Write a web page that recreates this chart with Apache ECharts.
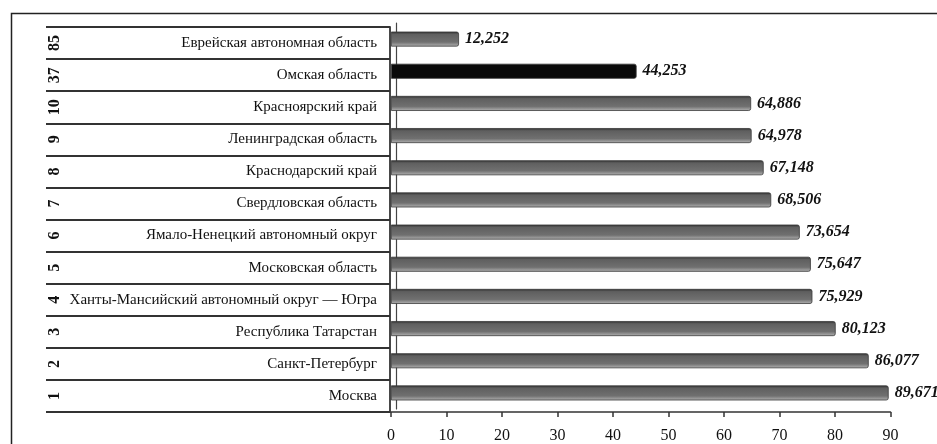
<!DOCTYPE html>
<html>
<head>
<meta charset="utf-8">
<script src="https://cdn.jsdelivr.net/npm/echarts@6/dist/echarts.min.js"></script>
<style>
html,body{margin:0;padding:0;background:#fff;}
#c{width:937px;height:444px;}
</style>
</head>
<body>
<div id="c"></div>
<script>
// data, ordered by rank (bottom row first)
const regions = ['Москва','Санкт-Петербург','Республика Татарстан','Ханты-Мансийский автономный округ — Югра','Московская область','Ямало-Ненецкий автономный округ','Свердловская область','Краснодарский край','Ленинградская область','Красноярский край','Омская область','Еврейская автономная область'];
const ranks = ['1','2','3','4','5','6','7','8','9','10','37','85'];
const values = [89.671, 86.077, 80.123, 75.929, 75.647, 73.654, 68.506, 67.148, 64.978, 64.886, 44.253, 12.252];
const xTicks = [0,10,20,30,40,50,60,70,80,90];
const highlight = 'Омская область';

const serif = '"Liberation Serif","Times New Roman",serif';
const chart = echarts.init(document.getElementById('c'), null, {renderer:'canvas'});

const grayBar = new echarts.graphic.LinearGradient(0,0,0,1,[
  {offset:0,color:'#2c2c2c'},
  {offset:0.18,color:'#5f5f5f'},
  {offset:0.7,color:'#707070'},
  {offset:1,color:'#b5b5b5'}
]);

chart.setOption({
  animation:false,
  backgroundColor:'#fff',
  graphic:[{
    type:'rect', left:9, top:11, silent:true,
    shape:{x:0,y:0,width:1000,height:500},
    style:{fill:'none',stroke:'#222',lineWidth:1.5}
  }],
  grid:[
    {left:391, right:46.5, top:23, bottom:35, containLabel:false},
    {left:46, right:547, top:27, bottom:32, containLabel:false}
  ],
  xAxis:[
    {gridIndex:0, type:'value', min:xTicks[0], max:xTicks[xTicks.length-1], interval:10, offset:3,
     axisLine:{show:true,onZero:false,lineStyle:{color:'#333',width:1.5}},
     axisTick:{show:true,inside:false,length:5,lineStyle:{color:'#333',width:1.5}},
     axisLabel:{margin:16,fontFamily:serif,fontSize:16,color:'#111'},
     splitLine:{show:false}},
    {gridIndex:1, type:'value', min:0, max:1, show:false}
  ],
  yAxis:[
    {gridIndex:0, type:'category', data:regions, offset:-5,
     axisLine:{show:true,onZero:false,lineStyle:{color:'#444',width:1.2}},
     axisTick:{show:false}, axisLabel:{show:false}, splitLine:{show:false}},
    {gridIndex:1, type:'category', data:regions, position:'right',
     axisLine:{show:true,onZero:false,lineStyle:{color:'#333',width:1.8}},
     axisTick:{show:false},
     axisLabel:{inside:true,margin:13,fontFamily:serif,fontSize:15,color:'#111',verticalAlign:'middle'},
     splitLine:{show:true,lineStyle:{color:'#333',width:1.8}}},
    {gridIndex:1, type:'category', data:ranks, position:'left',
     axisLine:{show:false,onZero:false}, axisTick:{show:false},
     axisLabel:{inside:true,rotate:90,margin:1,fontFamily:serif,fontSize:16,fontWeight:'bold',color:'#111'},
     splitLine:{show:false}}
  ],
  series:[{
    type:'bar', xAxisIndex:0, yAxisIndex:0,
    data:values, barWidth:15,
    itemStyle:{
      color:function(p){ return regions[p.dataIndex]===highlight ? '#0a0a0a' : grayBar; },
      borderColor:'#3a3a3a', borderWidth:0.8, borderRadius:[0,2,2,0]
    },
    label:{
      show:true, position:'right', distance:6,
      fontFamily:serif, fontSize:16, fontStyle:'italic', fontWeight:'bold', color:'#111',
      formatter:function(p){ return p.value.toFixed(3).replace('.',','); }
    }
  }]
});
</script>
</body>
</html>
